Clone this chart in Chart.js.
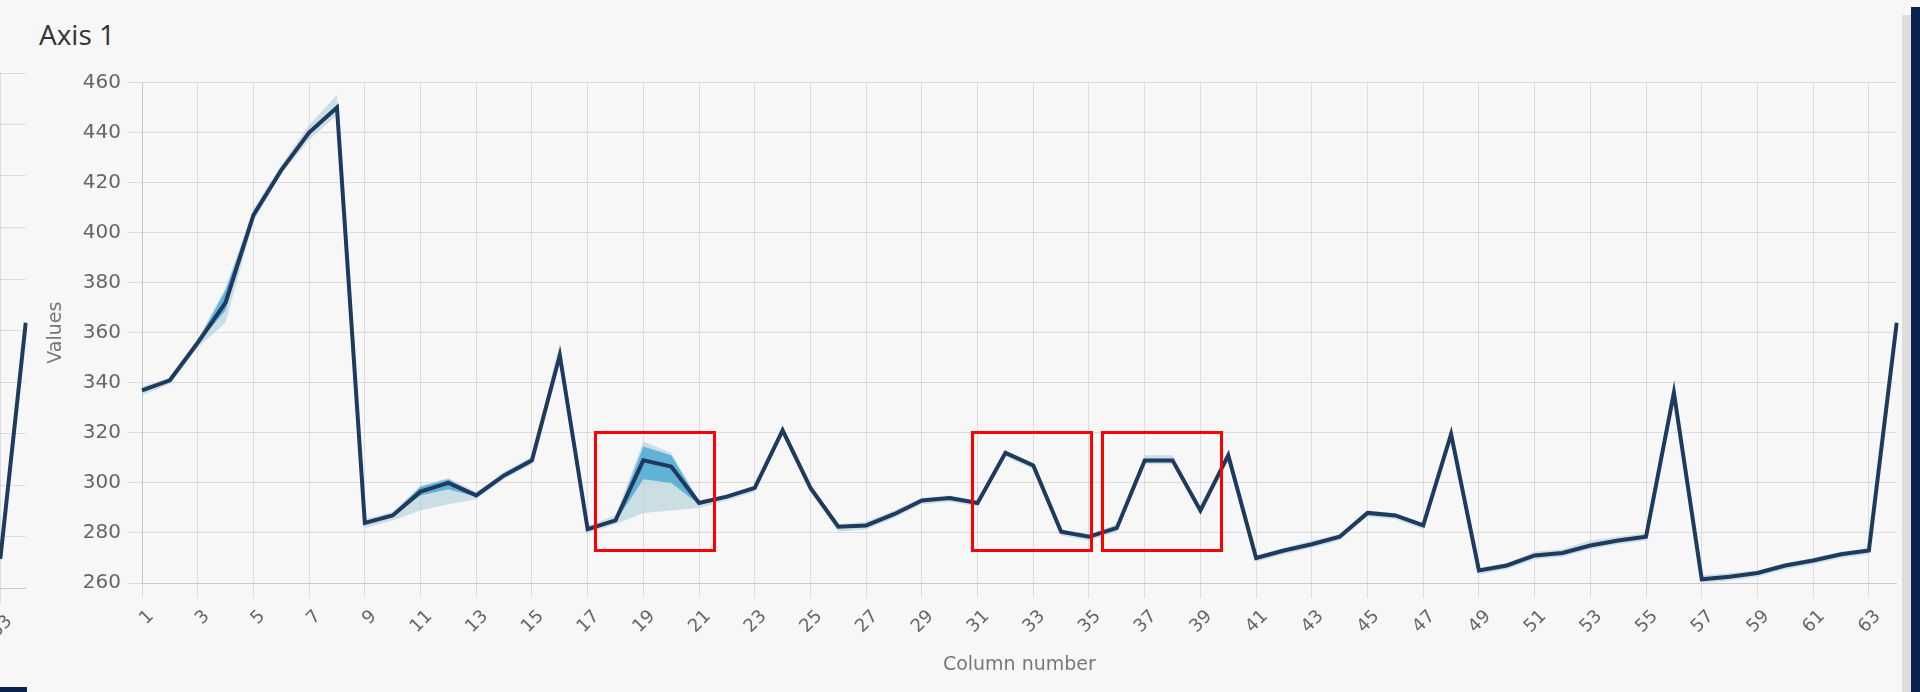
<!DOCTYPE html>
<html>
<head>
<meta charset="utf-8">
<script src="https://cdn.jsdelivr.net/npm/chart.js@4.4.1/dist/chart.umd.min.js"></script>
<style>
html,body{margin:0;padding:0;background:#f7f7f7;width:1920px;height:692px;overflow:hidden;position:relative;}
#title{position:absolute;left:39px;top:20px;font:400 28px/28px "Open Sans",sans-serif;color:#333;white-space:nowrap;}
#leftWrap{position:absolute;left:-1580px;top:60px;}
#mainWrap{position:absolute;left:30px;top:60px;}
.box{position:absolute;top:431px;width:122px;height:121px;border:3px solid #ff0000;box-sizing:border-box;}
#stripLight{position:absolute;left:1902px;top:15px;width:9px;height:677px;background:#dcdcdc;}
#stripDark{position:absolute;left:1911px;top:7px;width:9px;height:685px;background:#0b234d;}
#navLeft{position:absolute;left:0;top:687px;width:27px;height:5px;background:#0b234d;}
</style>
</head>
<body>
<div id="leftWrap"><canvas id="leftChart" width="1629" height="632"></canvas></div>
<div id="mainWrap"><canvas id="mainChart" width="1890" height="632"></canvas></div>
<div id="title">Axis 1</div>
<div class="box" style="left:594px"></div>
<div class="box" style="left:971px"></div>
<div class="box" style="left:1101px"></div>
<div id="stripLight"></div>
<div id="stripDark"></div>
<div id="navLeft"></div>
<script>
// ---- data ----
const columns = [1,2,3,4,5,6,7,8,9,10,11,12,13,14,15,16,17,18,19,20,21,22,23,24,25,26,27,28,29,30,31,32,
                 33,34,35,36,37,38,39,40,41,42,43,44,45,46,47,48,49,50,51,52,53,54,55,56,57,58,59,60,61,62,63,64];

const median  = [337,341,356,372,407,425,440,450,284,287,296.5,300,295,303,309,351,281.5,285,309,306.5,292,294.5,298,321,
                 298,282.5,283,287.5,293,294,292,312,307,280.5,278.5,282,309,309,289,311,270,273,275.5,278.5,288,287,283,319.5,
                 265,267,271,272,275,277,278.5,336,261.5,262.5,264,267,269,271.5,273,364];

const innerHi = [337.5,341.5,356.5,377,408,425.5,441,451,284.5,287.5,298.5,301.5,295.5,303.5,309.5,352,282,285.5,314.5,311,292.5,295,298.5,321.5,
                 298.5,283,283.5,288,293.5,294.5,292.5,312.5,307.5,281,279,282.5,309.5,309.5,289.5,311.5,270.5,273.5,276,279,288.5,287.5,283.5,320,
                 265.5,267.5,271.5,272.5,275.5,277.5,279,336.5,262,263,264.5,267.5,269.5,272,273.5,364.5];

const innerLo = [336.5,340.5,355.5,369,406,424.5,439,449,283.5,286.5,295,297.5,294.5,302.5,308.5,350,281,284.5,301.5,300,291.5,294,297.5,320.5,
                 297.5,282,282.5,287,292.5,293.5,291.5,311.5,306.5,280,278,281.5,308.5,308.5,288.5,310.5,269.5,272.5,275,278,287.5,286.5,282.5,319,
                 264.5,266.5,270.5,271.5,274.5,276.5,278,335.5,261,262,263.5,266.5,268.5,271,272.5,363.5];

const outerHi = [338.5,342,357.5,378,409.5,427,443,455,285.5,288.5,299,302,296.5,304.5,310.5,356,283,287,316.5,312,293,295.5,299,323,
                 299,283.5,284.5,289,294,295,293,313,308,281.5,279.5,283.5,311,311,290,313,271,274,277,279.5,289,288,284,322,
                 266,268,272.5,273.5,277,278.5,280,341,263,264,265,268,270,272.5,274,365];

const outerLo = [335,339.5,354,364,404.5,423.5,437,447,282,285,289,291.5,293.5,301.5,307.5,349.5,280,283.5,288,289,290,293,296.5,319.5,
                 296.5,280.5,281.5,286,291.5,292.5,290.5,310.5,305.5,279,277,280.5,307.5,307.5,287.5,309.5,268.5,271.5,274,277,286.5,285.5,281.5,318,
                 263.5,265.5,269.5,270.5,273.5,275.5,277,334,260,261,262.5,265.5,267.5,270,271.5,362.5];

const yTicks = [260,280,300,320,340,360,380,400,420,440,460];

// previous panel (only its right end is visible)
const leftCols   = [62,63,64];
const leftValues = [270,272,363];

// ---- styles ----
const GRID = 'rgba(0,0,0,0.1)';
const LINE = '#1f3a5f';
const FAMILY = '"DejaVu Sans", sans-serif';
const TICK_FONT_X = {family:FAMILY, size:18};
const TICK_FONT_Y = {family:FAMILY, size:20};
const TITLE_FONT = {family:FAMILY, size:19};

function xScale(height, showTitle){
  return {
    type:'category',
    grid:{color:c => (c.index % 2 === 0 ? GRID : 'rgba(0,0,0,0)'), tickLength:15},
    border:{color:GRID},
    ticks:{autoSkip:false, minRotation:45, maxRotation:45, padding:8, labelOffset:9, color:'#666', font:TICK_FONT_X,
           callback:function(v,i){ return i % 2 === 0 ? String(columns[i]) : ''; }},
    title:{display:showTitle, text:'Column number', color:'#777', font:TITLE_FONT, padding:{top:0,bottom:16}},
    afterFit:s => { s.height = height; }
  };
}

const band = (data, fill, color) => ({data, fill, backgroundColor:color, borderColor:'rgba(0,0,0,0)', borderWidth:0, pointRadius:0, tension:0});

new Chart(document.getElementById('mainChart'), {
  type:'line',
  data:{
    labels:columns,
    datasets:[
      {data:median, borderColor:LINE, borderWidth:4, pointRadius:0, fill:false, tension:0},
      band(innerHi, '+1', 'rgba(78,172,212,0.85)'),
      band(innerLo, false, 'rgba(0,0,0,0)'),
      band(outerHi, '+1', 'rgba(165,203,214,0.55)'),
      band(outerLo, false, 'rgba(0,0,0,0)')
    ]
  },
  options:{
    responsive:false, animation:false, devicePixelRatio:1,
    layout:{padding:{top:22.5,right:21,bottom:0,left:0}},
    plugins:{legend:{display:false}, tooltip:{enabled:false}},
    scales:{
      x:xScale(109, true),
      y:{
        min:yTicks[0], max:yTicks[yTicks.length-1],
        afterBuildTicks:s => { s.ticks = yTicks.map(v => ({value:v})); },
        grid:{color:GRID, tickLength:15}, border:{color:GRID},
        ticks:{color:'#666', font:TICK_FONT_Y, padding:6},
        title:{display:true, text:'Values', color:'#777', font:TITLE_FONT, padding:{top:15,bottom:0}},
        afterFit:s => { s.width = 112; }
      }
    }
  }
});

new Chart(document.getElementById('leftChart'), {
  type:'line',
  data:{
    labels:columns,
    datasets:[
      {data:leftCols.map((c,i) => ({x:c, y:leftValues[i]})), borderColor:LINE, borderWidth:4, pointRadius:0, fill:false, tension:0}
    ]
  },
  options:{
    responsive:false, animation:false, devicePixelRatio:1,
    layout:{padding:{top:13,right:22,bottom:0,left:0}},
    plugins:{legend:{display:false}, tooltip:{enabled:false}},
    scales:{
      x:xScale(104, false),
      y:{
        min:yTicks[0], max:yTicks[yTicks.length-1],
        afterBuildTicks:s => { s.ticks = yTicks.map(v => ({value:v})); },
        grid:{color:GRID, tickLength:15}, border:{color:GRID},
        ticks:{display:false},
        afterFit:s => { s.width = 0; }
      }
    }
  }
});
</script>
</body>
</html>
